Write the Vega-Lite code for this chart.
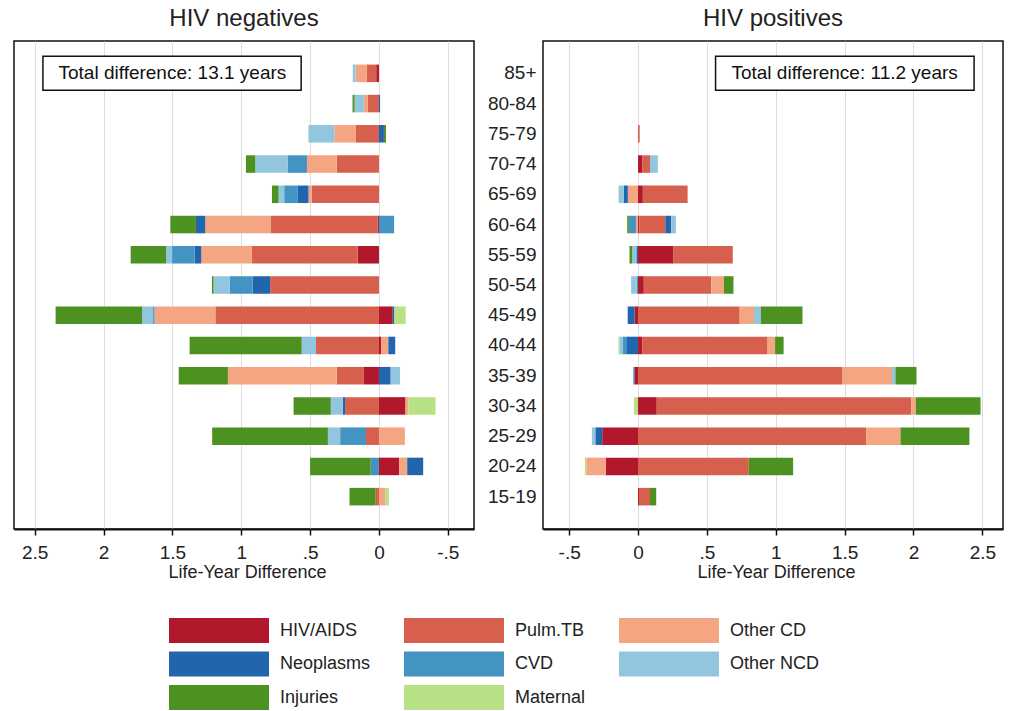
{
  "$schema": "https://vega.github.io/schema/vega-lite/v6.json",
  "padding": {"left": 13, "top": 6, "right": 10, "bottom": 0},
  "background": "white",
  "datasets": {
    "causes": [
      {"cause": "HIV/AIDS", "k": 1},
      {"cause": "Pulm.TB", "k": 2},
      {"cause": "Other CD", "k": 3},
      {"cause": "Neoplasms", "k": 4},
      {"cause": "CVD", "k": 5},
      {"cause": "Other NCD", "k": 6},
      {"cause": "Injuries", "k": 7},
      {"cause": "Maternal", "k": 8}
    ],
    "boxes": [
      {"g": "neg", "age": "85+", "x1": 2.44, "x2": 0.565, "xm": 1.5, "label": "Total difference: 13.1 years"},
      {"g": "pos", "age": "85+", "x1": 0.563, "x2": 2.44, "xm": 1.5, "label": "Total difference: 11.2 years"}
    ],
    "bars": [
      {"g": "neg", "age": "85+", "cause": "HIV/AIDS", "v": 0.02},
      {"g": "neg", "age": "85+", "cause": "Pulm.TB", "v": 0.07},
      {"g": "neg", "age": "85+", "cause": "Other CD", "v": 0.08},
      {"g": "neg", "age": "85+", "cause": "Other NCD", "v": 0.02},
      {"g": "neg", "age": "80-84", "cause": "HIV/AIDS", "v": 0.005},
      {"g": "neg", "age": "80-84", "cause": "Pulm.TB", "v": 0.075},
      {"g": "neg", "age": "80-84", "cause": "Other CD", "v": 0.03},
      {"g": "neg", "age": "80-84", "cause": "Other NCD", "v": 0.067},
      {"g": "neg", "age": "80-84", "cause": "Injuries", "v": 0.015},
      {"g": "neg", "age": "80-84", "cause": "Neoplasms", "v": -0.008},
      {"g": "neg", "age": "75-79", "cause": "Pulm.TB", "v": 0.167},
      {"g": "neg", "age": "75-79", "cause": "Other CD", "v": 0.157},
      {"g": "neg", "age": "75-79", "cause": "Other NCD", "v": 0.188},
      {"g": "neg", "age": "75-79", "cause": "Neoplasms", "v": -0.036},
      {"g": "neg", "age": "75-79", "cause": "Injuries", "v": -0.015},
      {"g": "neg", "age": "70-74", "cause": "Pulm.TB", "v": 0.307},
      {"g": "neg", "age": "70-74", "cause": "Other CD", "v": 0.217},
      {"g": "neg", "age": "70-74", "cause": "Neoplasms", "v": 0.005},
      {"g": "neg", "age": "70-74", "cause": "CVD", "v": 0.135},
      {"g": "neg", "age": "70-74", "cause": "Other NCD", "v": 0.234},
      {"g": "neg", "age": "70-74", "cause": "Injuries", "v": 0.068},
      {"g": "neg", "age": "65-69", "cause": "Pulm.TB", "v": 0.488},
      {"g": "neg", "age": "65-69", "cause": "Other CD", "v": 0.024},
      {"g": "neg", "age": "65-69", "cause": "Neoplasms", "v": 0.077},
      {"g": "neg", "age": "65-69", "cause": "CVD", "v": 0.099},
      {"g": "neg", "age": "65-69", "cause": "Other NCD", "v": 0.041},
      {"g": "neg", "age": "65-69", "cause": "Injuries", "v": 0.048},
      {"g": "neg", "age": "60-64", "cause": "HIV/AIDS", "v": 0.01},
      {"g": "neg", "age": "60-64", "cause": "Pulm.TB", "v": 0.778},
      {"g": "neg", "age": "60-64", "cause": "Other CD", "v": 0.473},
      {"g": "neg", "age": "60-64", "cause": "Neoplasms", "v": 0.068},
      {"g": "neg", "age": "60-64", "cause": "Injuries", "v": 0.186},
      {"g": "neg", "age": "60-64", "cause": "CVD", "v": -0.11},
      {"g": "neg", "age": "55-59", "cause": "HIV/AIDS", "v": 0.155},
      {"g": "neg", "age": "55-59", "cause": "Pulm.TB", "v": 0.768},
      {"g": "neg", "age": "55-59", "cause": "Other CD", "v": 0.367},
      {"g": "neg", "age": "55-59", "cause": "Neoplasms", "v": 0.048},
      {"g": "neg", "age": "55-59", "cause": "CVD", "v": 0.164},
      {"g": "neg", "age": "55-59", "cause": "Other NCD", "v": 0.043},
      {"g": "neg", "age": "55-59", "cause": "Injuries", "v": 0.258},
      {"g": "neg", "age": "50-54", "cause": "Pulm.TB", "v": 0.79},
      {"g": "neg", "age": "50-54", "cause": "Neoplasms", "v": 0.128},
      {"g": "neg", "age": "50-54", "cause": "CVD", "v": 0.167},
      {"g": "neg", "age": "50-54", "cause": "Other NCD", "v": 0.116},
      {"g": "neg", "age": "50-54", "cause": "Injuries", "v": 0.012},
      {"g": "neg", "age": "45-49", "cause": "Pulm.TB", "v": 1.188},
      {"g": "neg", "age": "45-49", "cause": "Other CD", "v": 0.442},
      {"g": "neg", "age": "45-49", "cause": "CVD", "v": 0.01},
      {"g": "neg", "age": "45-49", "cause": "Other NCD", "v": 0.08},
      {"g": "neg", "age": "45-49", "cause": "Injuries", "v": 0.628},
      {"g": "neg", "age": "45-49", "cause": "HIV/AIDS", "v": -0.1},
      {"g": "neg", "age": "45-49", "cause": "Neoplasms", "v": -0.012},
      {"g": "neg", "age": "45-49", "cause": "Maternal", "v": -0.082},
      {"g": "neg", "age": "40-44", "cause": "Pulm.TB", "v": 0.457},
      {"g": "neg", "age": "40-44", "cause": "Other NCD", "v": 0.104},
      {"g": "neg", "age": "40-44", "cause": "Injuries", "v": 0.814},
      {"g": "neg", "age": "40-44", "cause": "HIV/AIDS", "v": -0.015},
      {"g": "neg", "age": "40-44", "cause": "Other CD", "v": -0.053},
      {"g": "neg", "age": "40-44", "cause": "Neoplasms", "v": -0.05},
      {"g": "neg", "age": "35-39", "cause": "HIV/AIDS", "v": 0.109},
      {"g": "neg", "age": "35-39", "cause": "Pulm.TB", "v": 0.198},
      {"g": "neg", "age": "35-39", "cause": "Other CD", "v": 0.79},
      {"g": "neg", "age": "35-39", "cause": "Injuries", "v": 0.357},
      {"g": "neg", "age": "35-39", "cause": "Neoplasms", "v": -0.085},
      {"g": "neg", "age": "35-39", "cause": "Other NCD", "v": -0.068},
      {"g": "neg", "age": "30-34", "cause": "Pulm.TB", "v": 0.246},
      {"g": "neg", "age": "30-34", "cause": "Neoplasms", "v": 0.017},
      {"g": "neg", "age": "30-34", "cause": "Other NCD", "v": 0.087},
      {"g": "neg", "age": "30-34", "cause": "Injuries", "v": 0.27},
      {"g": "neg", "age": "30-34", "cause": "HIV/AIDS", "v": -0.193},
      {"g": "neg", "age": "30-34", "cause": "Other CD", "v": -0.02},
      {"g": "neg", "age": "30-34", "cause": "Maternal", "v": -0.198},
      {"g": "neg", "age": "25-29", "cause": "Pulm.TB", "v": 0.094},
      {"g": "neg", "age": "25-29", "cause": "CVD", "v": 0.188},
      {"g": "neg", "age": "25-29", "cause": "Other NCD", "v": 0.089},
      {"g": "neg", "age": "25-29", "cause": "Injuries", "v": 0.84},
      {"g": "neg", "age": "25-29", "cause": "Other CD", "v": -0.188},
      {"g": "neg", "age": "20-24", "cause": "CVD", "v": 0.06},
      {"g": "neg", "age": "20-24", "cause": "Injuries", "v": 0.44},
      {"g": "neg", "age": "20-24", "cause": "HIV/AIDS", "v": -0.147},
      {"g": "neg", "age": "20-24", "cause": "Other CD", "v": -0.058},
      {"g": "neg", "age": "20-24", "cause": "Neoplasms", "v": -0.116},
      {"g": "neg", "age": "15-19", "cause": "Pulm.TB", "v": 0.024},
      {"g": "neg", "age": "15-19", "cause": "Injuries", "v": 0.19},
      {"g": "neg", "age": "15-19", "cause": "Other CD", "v": -0.048},
      {"g": "neg", "age": "15-19", "cause": "Maternal", "v": -0.024},
      {"g": "pos", "age": "75-79", "cause": "Pulm.TB", "v": 0.012},
      {"g": "pos", "age": "70-74", "cause": "HIV/AIDS", "v": 0.03},
      {"g": "pos", "age": "70-74", "cause": "Pulm.TB", "v": 0.057},
      {"g": "pos", "age": "70-74", "cause": "Other NCD", "v": 0.057},
      {"g": "pos", "age": "65-69", "cause": "HIV/AIDS", "v": 0.035},
      {"g": "pos", "age": "65-69", "cause": "Pulm.TB", "v": 0.325},
      {"g": "pos", "age": "65-69", "cause": "Other CD", "v": -0.074},
      {"g": "pos", "age": "65-69", "cause": "Neoplasms", "v": -0.03},
      {"g": "pos", "age": "65-69", "cause": "Other NCD", "v": -0.037},
      {"g": "pos", "age": "60-64", "cause": "HIV/AIDS", "v": 0.01},
      {"g": "pos", "age": "60-64", "cause": "Pulm.TB", "v": 0.188},
      {"g": "pos", "age": "60-64", "cause": "Neoplasms", "v": 0.042},
      {"g": "pos", "age": "60-64", "cause": "Other NCD", "v": 0.035},
      {"g": "pos", "age": "60-64", "cause": "Other CD", "v": -0.015},
      {"g": "pos", "age": "60-64", "cause": "CVD", "v": -0.052},
      {"g": "pos", "age": "60-64", "cause": "Injuries", "v": -0.012},
      {"g": "pos", "age": "55-59", "cause": "HIV/AIDS", "v": 0.258},
      {"g": "pos", "age": "55-59", "cause": "Pulm.TB", "v": 0.43},
      {"g": "pos", "age": "55-59", "cause": "Neoplasms", "v": -0.012},
      {"g": "pos", "age": "55-59", "cause": "Other NCD", "v": -0.03},
      {"g": "pos", "age": "55-59", "cause": "Injuries", "v": -0.02},
      {"g": "pos", "age": "50-54", "cause": "HIV/AIDS", "v": 0.042},
      {"g": "pos", "age": "50-54", "cause": "Pulm.TB", "v": 0.49},
      {"g": "pos", "age": "50-54", "cause": "Other CD", "v": 0.092},
      {"g": "pos", "age": "50-54", "cause": "Injuries", "v": 0.069},
      {"g": "pos", "age": "50-54", "cause": "CVD", "v": -0.01},
      {"g": "pos", "age": "50-54", "cause": "Other NCD", "v": -0.04},
      {"g": "pos", "age": "45-49", "cause": "Pulm.TB", "v": 0.738},
      {"g": "pos", "age": "45-49", "cause": "Other CD", "v": 0.104},
      {"g": "pos", "age": "45-49", "cause": "Other NCD", "v": 0.05},
      {"g": "pos", "age": "45-49", "cause": "Injuries", "v": 0.302},
      {"g": "pos", "age": "45-49", "cause": "HIV/AIDS", "v": -0.025},
      {"g": "pos", "age": "45-49", "cause": "Neoplasms", "v": -0.05},
      {"g": "pos", "age": "40-44", "cause": "HIV/AIDS", "v": 0.03},
      {"g": "pos", "age": "40-44", "cause": "Pulm.TB", "v": 0.911},
      {"g": "pos", "age": "40-44", "cause": "Other CD", "v": 0.054},
      {"g": "pos", "age": "40-44", "cause": "Injuries", "v": 0.062},
      {"g": "pos", "age": "40-44", "cause": "Neoplasms", "v": -0.08},
      {"g": "pos", "age": "40-44", "cause": "CVD", "v": -0.03},
      {"g": "pos", "age": "40-44", "cause": "Other NCD", "v": -0.025},
      {"g": "pos", "age": "40-44", "cause": "Maternal", "v": -0.007},
      {"g": "pos", "age": "35-39", "cause": "Pulm.TB", "v": 1.485},
      {"g": "pos", "age": "35-39", "cause": "Other CD", "v": 0.359},
      {"g": "pos", "age": "35-39", "cause": "Other NCD", "v": 0.025},
      {"g": "pos", "age": "35-39", "cause": "Injuries", "v": 0.153},
      {"g": "pos", "age": "35-39", "cause": "HIV/AIDS", "v": -0.025},
      {"g": "pos", "age": "35-39", "cause": "Neoplasms", "v": -0.008},
      {"g": "pos", "age": "30-34", "cause": "HIV/AIDS", "v": 0.136},
      {"g": "pos", "age": "30-34", "cause": "Pulm.TB", "v": 1.849},
      {"g": "pos", "age": "30-34", "cause": "Other CD", "v": 0.032},
      {"g": "pos", "age": "30-34", "cause": "Injuries", "v": 0.47},
      {"g": "pos", "age": "30-34", "cause": "Maternal", "v": -0.03},
      {"g": "pos", "age": "25-29", "cause": "Pulm.TB", "v": 1.658},
      {"g": "pos", "age": "25-29", "cause": "Other CD", "v": 0.248},
      {"g": "pos", "age": "25-29", "cause": "Injuries", "v": 0.5},
      {"g": "pos", "age": "25-29", "cause": "HIV/AIDS", "v": -0.26},
      {"g": "pos", "age": "25-29", "cause": "Neoplasms", "v": -0.05},
      {"g": "pos", "age": "25-29", "cause": "Other NCD", "v": -0.025},
      {"g": "pos", "age": "20-24", "cause": "Pulm.TB", "v": 0.804},
      {"g": "pos", "age": "20-24", "cause": "Injuries", "v": 0.322},
      {"g": "pos", "age": "20-24", "cause": "HIV/AIDS", "v": -0.235},
      {"g": "pos", "age": "20-24", "cause": "Other CD", "v": -0.141},
      {"g": "pos", "age": "20-24", "cause": "Maternal", "v": -0.01},
      {"g": "pos", "age": "15-19", "cause": "HIV/AIDS", "v": 0.007},
      {"g": "pos", "age": "15-19", "cause": "Pulm.TB", "v": 0.08},
      {"g": "pos", "age": "15-19", "cause": "Injuries", "v": 0.045}
    ]
  },
  "spacing": 11,
  "hconcat": [
    {
      "title": "HIV negatives",
      "width": 460,
      "height": 488,
      "encoding": {
        "y": {
          "field": "age", "type": "nominal",
          "sort": ["85+", "80-84", "75-79", "70-74", "65-69", "60-64", "55-59", "50-54", "45-49", "40-44", "35-39", "30-34", "25-29", "20-24", "15-19"],
          "scale": {"domain": ["85+", "80-84", "75-79", "70-74", "65-69", "60-64", "55-59", "50-54", "45-49", "40-44", "35-39", "30-34", "25-29", "20-24", "15-19"], "paddingInner": 0.42, "paddingOuter": 0.78},
          "axis": null
        }
      },
      "layer": [
        {
          "data": {"name": "bars"},
          "transform": [
            {"filter": "datum.g == 'neg'"},
            {"lookup": "cause", "from": {"data": {"name": "causes"}, "key": "cause", "fields": ["k"]}}
          ],
          "mark": {"type": "bar"},
          "encoding": {
            "x": {
              "field": "v", "type": "quantitative", "stack": "zero",
              "scale": {"domain": [-0.69, 2.65], "reverse": true, "nice": false, "zero": false},
              "axis": {"title": "Life-Year Difference", "values": [-0.5, 0, 0.5, 1, 1.5, 2, 2.5], "labelExpr": "replace(toString(datum.value), '0.', '.')", "labelOverlap": false, "labelFlush": false, "titleX": 233}
            },
            "color": {
              "field": "cause", "type": "nominal",
              "scale": {"domain": ["HIV/AIDS", "Pulm.TB", "Other CD", "Neoplasms", "CVD", "Other NCD", "Injuries", "Maternal"], "range": ["#b2182b", "#d6604d", "#f4a582", "#2166ac", "#4393c3", "#92c5de", "#4d9221", "#b8e186"]},
              "legend": {"orient": "none", "direction": "horizontal", "legendX": 155, "legendY": 577, "title": null, "columns": 3, "symbolType": "M-1,-1H7V1H-1Z", "symbolSize": 625, "symbolStrokeWidth": 0, "symbolOpacity": 1, "labelFontSize": 18, "labelOffset": 86, "columnPadding": 33, "rowPadding": 8.5, "labelColor": "#222", "labelFont": "Liberation Sans", "padding": 0}
            },
            "order": {"field": "k", "type": "quantitative"}
          }
        },
        {
          "data": {"name": "boxes"},
          "transform": [{"filter": "datum.g == 'neg'"}],
          "mark": {"type": "bar", "fill": "white", "stroke": "#111", "strokeWidth": 1.5, "size": 34},
          "encoding": {
            "x": {"field": "x1", "type": "quantitative", "scale": {"domain": [-0.69, 2.65], "reverse": true, "nice": false, "zero": false}, "axis": {"title": "Life-Year Difference", "values": [-0.5, 0, 0.5, 1, 1.5, 2, 2.5], "labelExpr": "replace(toString(datum.value), '0.', '.')", "labelOverlap": false, "labelFlush": false, "titleX": 233}},
            "x2": {"field": "x2"}
          }
        },
        {
          "data": {"name": "boxes"},
          "transform": [{"filter": "datum.g == 'neg'"}],
          "mark": {"type": "text", "fontSize": 19, "font": "Liberation Sans", "color": "#111"},
          "encoding": {
            "x": {"field": "xm", "type": "quantitative", "scale": {"domain": [-0.69, 2.65], "reverse": true, "nice": false, "zero": false}, "axis": {"title": "Life-Year Difference", "values": [-0.5, 0, 0.5, 1, 1.5, 2, 2.5], "labelExpr": "replace(toString(datum.value), '0.', '.')", "labelOverlap": false, "labelFlush": false, "titleX": 233}},
            "text": {"field": "label"}
          }
        }
      ]
    },
    {
      "title": "HIV positives",
      "width": 460,
      "height": 488,
      "encoding": {
        "y": {
          "field": "age", "type": "nominal",
          "sort": ["85+", "80-84", "75-79", "70-74", "65-69", "60-64", "55-59", "50-54", "45-49", "40-44", "35-39", "30-34", "25-29", "20-24", "15-19"],
          "scale": {"domain": ["85+", "80-84", "75-79", "70-74", "65-69", "60-64", "55-59", "50-54", "45-49", "40-44", "35-39", "30-34", "25-29", "20-24", "15-19"], "paddingInner": 0.42, "paddingOuter": 0.78},
          "axis": {"title": null, "domain": false, "ticks": false, "grid": false, "labelFontSize": 19, "labelColor": "#222", "labelPadding": 7, "labelFont": "Liberation Sans"}
        }
      },
      "layer": [
        {
          "data": {"name": "bars"},
          "transform": [
            {"filter": "datum.g == 'pos'"},
            {"lookup": "cause", "from": {"data": {"name": "causes"}, "key": "cause", "fields": ["k"]}}
          ],
          "mark": {"type": "bar"},
          "encoding": {
            "x": {
              "field": "v", "type": "quantitative", "stack": "zero",
              "scale": {"domain": [-0.69, 2.65], "nice": false, "zero": false},
              "axis": {"title": "Life-Year Difference", "values": [-0.5, 0, 0.5, 1, 1.5, 2, 2.5], "labelExpr": "replace(toString(datum.value), '0.', '.')", "labelOverlap": false, "labelFlush": false, "titleX": 233}
            },
            "color": {
              "field": "cause", "type": "nominal",
              "scale": {"domain": ["HIV/AIDS", "Pulm.TB", "Other CD", "Neoplasms", "CVD", "Other NCD", "Injuries", "Maternal"], "range": ["#b2182b", "#d6604d", "#f4a582", "#2166ac", "#4393c3", "#92c5de", "#4d9221", "#b8e186"]},
              "legend": {"orient": "none", "direction": "horizontal", "legendX": 155, "legendY": 577, "title": null, "columns": 3, "symbolType": "M-1,-1H7V1H-1Z", "symbolSize": 625, "symbolStrokeWidth": 0, "symbolOpacity": 1, "labelFontSize": 18, "labelOffset": 86, "columnPadding": 33, "rowPadding": 8.5, "labelColor": "#222", "labelFont": "Liberation Sans", "padding": 0}
            },
            "order": {"field": "k", "type": "quantitative"}
          }
        },
        {
          "data": {"name": "boxes"},
          "transform": [{"filter": "datum.g == 'pos'"}],
          "mark": {"type": "bar", "fill": "white", "stroke": "#111", "strokeWidth": 1.5, "size": 34},
          "encoding": {
            "x": {"field": "x1", "type": "quantitative", "scale": {"domain": [-0.69, 2.65], "nice": false, "zero": false}, "axis": {"title": "Life-Year Difference", "values": [-0.5, 0, 0.5, 1, 1.5, 2, 2.5], "labelExpr": "replace(toString(datum.value), '0.', '.')", "labelOverlap": false, "labelFlush": false, "titleX": 233}},
            "x2": {"field": "x2"}
          }
        },
        {
          "data": {"name": "boxes"},
          "transform": [{"filter": "datum.g == 'pos'"}],
          "mark": {"type": "text", "fontSize": 19, "font": "Liberation Sans", "color": "#111"},
          "encoding": {
            "x": {"field": "xm", "type": "quantitative", "scale": {"domain": [-0.69, 2.65], "nice": false, "zero": false}, "axis": {"title": "Life-Year Difference", "values": [-0.5, 0, 0.5, 1, 1.5, 2, 2.5], "labelExpr": "replace(toString(datum.value), '0.', '.')", "labelOverlap": false, "labelFlush": false, "titleX": 233}},
            "text": {"field": "label"}
          }
        }
      ]
    }
  ],
  "config": {
    "font": "Liberation Sans",
    "view": {"stroke": "#111", "strokeWidth": 1.5},
    "title": {"fontSize": 24, "fontWeight": "normal", "color": "#222", "offset": 10, "font": "Liberation Sans"},
    "axisX": {
      "grid": true, "gridColor": "#dddddd", "gridWidth": 1,
      "domainColor": "#111", "domainWidth": 2,
      "tickColor": "#111", "tickSize": 6, "tickWidth": 1.5,
      "labelFontSize": 19, "labelColor": "#222", "labelPadding": 8, "labelFont": "Liberation Sans",
      "titleFontSize": 18, "titleFontWeight": "normal", "titleColor": "#222", "titlePadding": 1, "titleFont": "Liberation Sans"
    },
    "axisY": {"grid": false}
  }
}
